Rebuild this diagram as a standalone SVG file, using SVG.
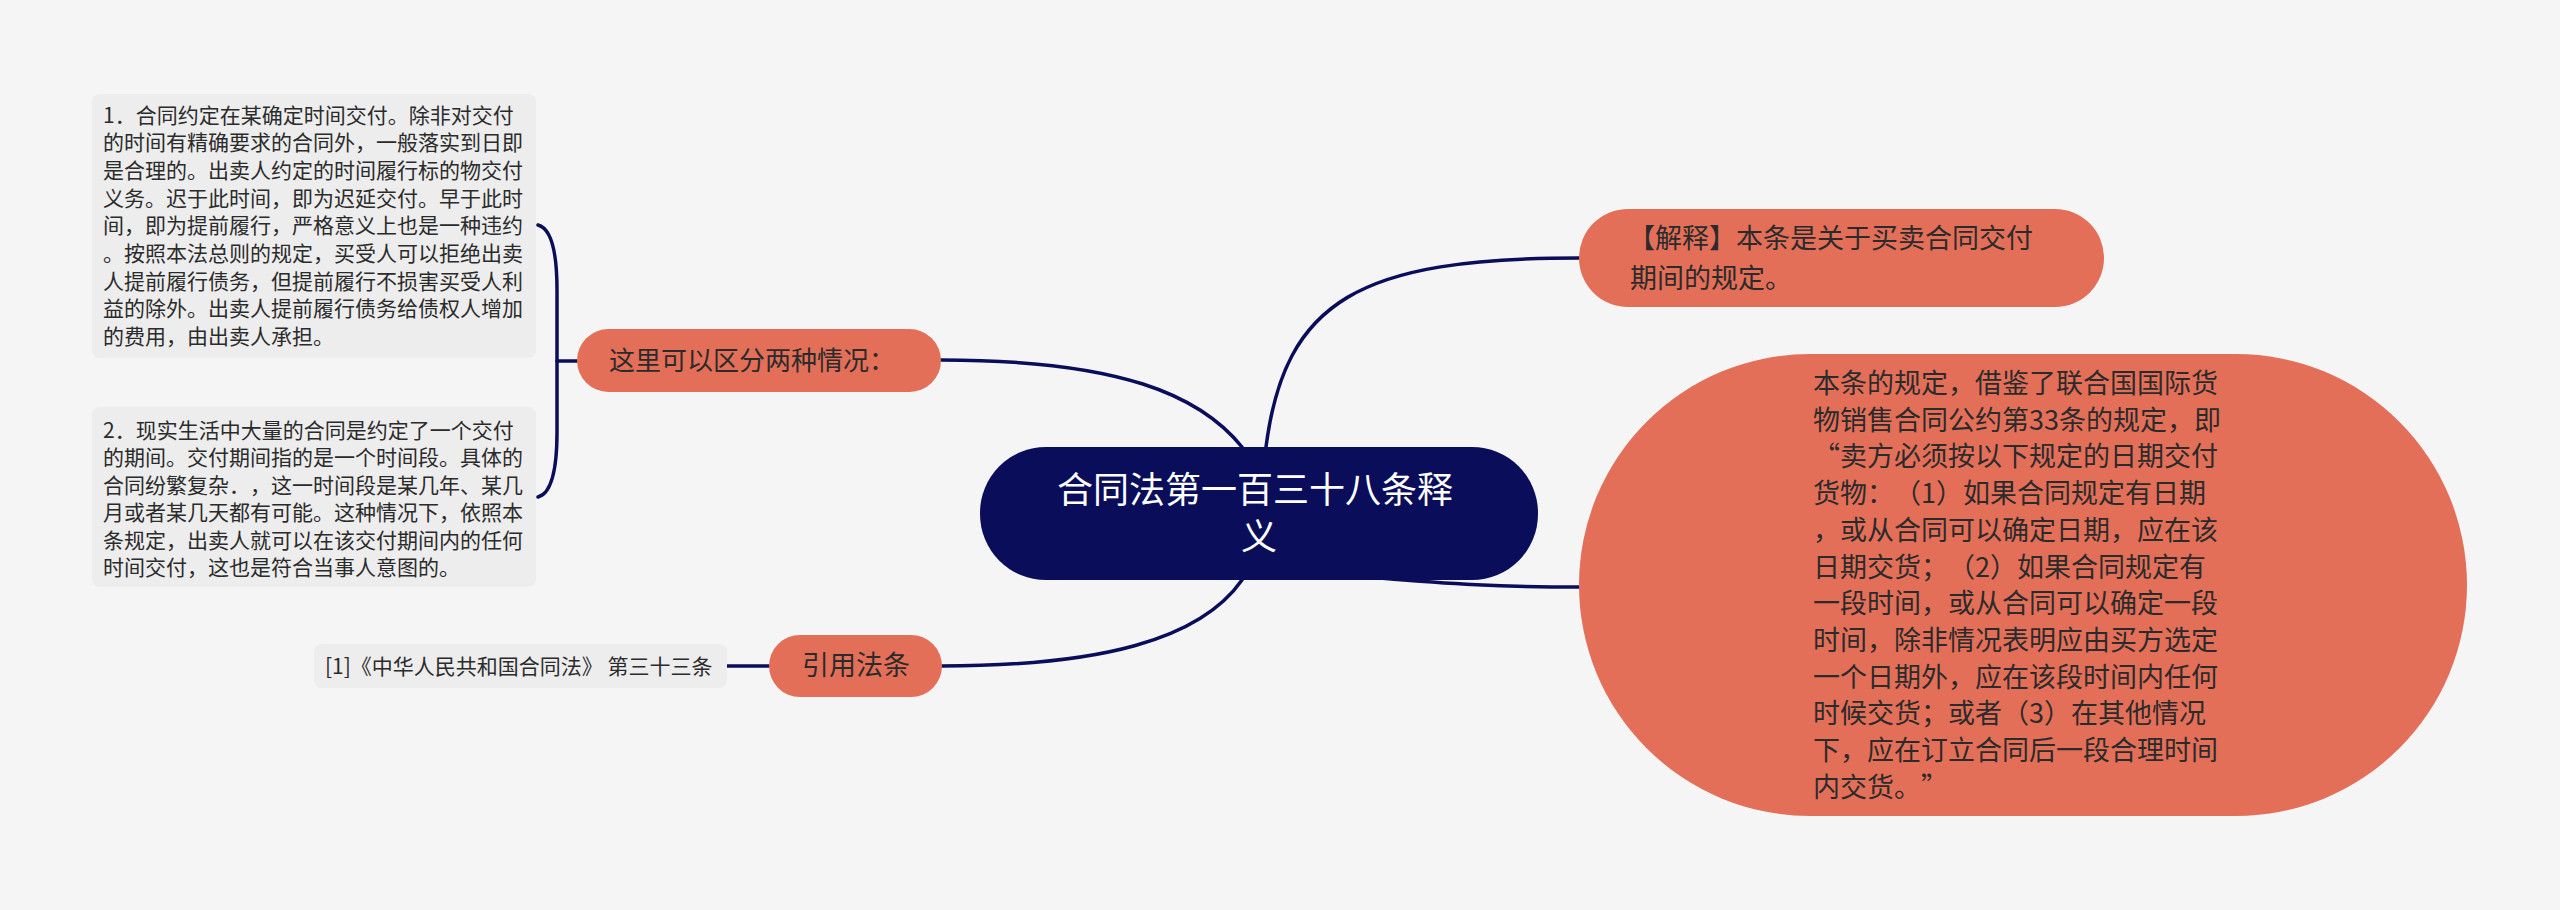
<svg xmlns="http://www.w3.org/2000/svg" width="2560" height="910" viewBox="0 0 2560 910">
<style>
  .bg { fill: #f5f5f5; }
  .conn { fill: none; stroke: #0a0e5a; stroke-width: 3.5; stroke-linecap: round; }
  .orange { fill: #e46f59; }
  .navy { fill: #0a0e5a; }
  .box { fill: #ededed; }
  text { text-spacing-trim: space-all; }
  .t { font-family: 'Noto Sans CJK SC', 'Noto Sans', sans-serif; fill: #2b2b2b; }
  .w { font-family: 'Noto Sans CJK SC', 'Noto Sans', sans-serif; fill: #ffffff; }
</style>
<rect class="bg" x="0" y="0" width="2560" height="910"/>

<g id="connectors">
  <path class="conn" d="M1266,447 C1285,300 1360,258 1579,258"/>
  <path class="conn" d="M1380,578 C1450,584 1500,587 1582,587"/>
  <path class="conn" d="M1242,447 C1200,395 1120,360 941,360"/>
  <path class="conn" d="M1242,580 C1200,640 1100,666 941,666"/>
  <path class="conn" d="M769,666 L727,666"/>
  <path class="conn" d="M577,361 L557,361"/>
  <path class="conn" d="M538,225 Q557,230 557,290 L557,432 Q557,492 538,497"/>
</g>

<g id="center">
  <rect class="navy" x="980" y="447" width="558" height="133" rx="66" ry="66"/>
  <text class="w" font-size="36" text-anchor="middle">
    <tspan x="1259" y="503">合同法第一百三十八条释</tspan>
    <tspan x="1259" y="550">义</tspan>
  </text>
</g>

<g id="node-jieshi">
  <rect class="orange" x="1579" y="209" width="525" height="98" rx="49" ry="49"/>
  <text class="t" font-size="27">
    <tspan x="1628" y="248">【解释】本条是关于买卖合同交付</tspan>
    <tspan x="1630" y="288">期间的规定。</tspan>
  </text>
</g>

<g id="node-guiding">
  <rect class="orange" x="1579" y="354" width="888" height="462" rx="231" ry="231"/>
  <text class="t" font-size="27">
    <tspan x="1813" y="393">本条的规定，借鉴了联合国国际货</tspan>
    <tspan x="1813" y="429.7">物销售合同公约第33条的规定，即</tspan>
    <tspan x="1813" y="466.4">“卖方必须按以下规定的日期交付</tspan>
    <tspan x="1813" y="503.1">货物：（1）如果合同规定有日期</tspan>
    <tspan x="1813" y="539.8">，或从合同可以确定日期，应在该</tspan>
    <tspan x="1813" y="576.5">日期交货；（2）如果合同规定有</tspan>
    <tspan x="1813" y="613.2">一段时间，或从合同可以确定一段</tspan>
    <tspan x="1813" y="649.9">时间，除非情况表明应由买方选定</tspan>
    <tspan x="1813" y="686.6">一个日期外，应在该段时间内任何</tspan>
    <tspan x="1813" y="723.3">时候交货；或者（3）在其他情况</tspan>
    <tspan x="1813" y="760">下，应在订立合同后一段合理时间</tspan>
    <tspan x="1813" y="796.7">内交货。”</tspan>
  </text>
</g>

<g id="node-liangzhong">
  <rect class="orange" x="577" y="329" width="364" height="63" rx="31.5" ry="31.5"/>
  <text class="t" font-size="26" x="609" y="370">这里可以区分两种情况：</text>
</g>

<g id="node-yinyong">
  <rect class="orange" x="769" y="635" width="173" height="62" rx="31" ry="31"/>
  <text class="t" font-size="27" x="856" y="675" text-anchor="middle">引用法条</text>
</g>

<g id="box-1">
  <rect class="box" x="92" y="94" width="444" height="264" rx="8" ry="8"/>
  <text class="t" font-size="21">
    <tspan x="103" y="122.5">1．合同约定在某确定时间交付。除非对交付</tspan>
    <tspan x="103" y="150.2">的时间有精确要求的合同外，一般落实到日即</tspan>
    <tspan x="103" y="177.9">是合理的。出卖人约定的时间履行标的物交付</tspan>
    <tspan x="103" y="205.6">义务。迟于此时间，即为迟延交付。早于此时</tspan>
    <tspan x="103" y="233.3">间，即为提前履行，严格意义上也是一种违约</tspan>
    <tspan x="103" y="261">。按照本法总则的规定，买受人可以拒绝出卖</tspan>
    <tspan x="103" y="288.7">人提前履行债务，但提前履行不损害买受人利</tspan>
    <tspan x="103" y="316.4">益的除外。出卖人提前履行债务给债权人增加</tspan>
    <tspan x="103" y="344.1">的费用，由出卖人承担。</tspan>
  </text>
</g>

<g id="box-2">
  <rect class="box" x="92" y="407" width="444" height="180" rx="8" ry="8"/>
  <text class="t" font-size="21">
    <tspan x="103" y="437.5">2．现实生活中大量的合同是约定了一个交付</tspan>
    <tspan x="103" y="465">的期间。交付期间指的是一个时间段。具体的</tspan>
    <tspan x="103" y="492.5">合同纷繁复杂．，这一时间段是某几年、某几</tspan>
    <tspan x="103" y="520">月或者某几天都有可能。这种情况下，依照本</tspan>
    <tspan x="103" y="547.5">条规定，出卖人就可以在该交付期间内的任何</tspan>
    <tspan x="103" y="575">时间交付，这也是符合当事人意图的。</tspan>
  </text>
</g>

<g id="box-ref">
  <rect class="box" x="314" y="644" width="413" height="44" rx="8" ry="8"/>
  <text class="t" font-size="21" x="325" y="673.5">[1]《中华人民共和国合同法》 第三十三条</text>
</g>
</svg>
